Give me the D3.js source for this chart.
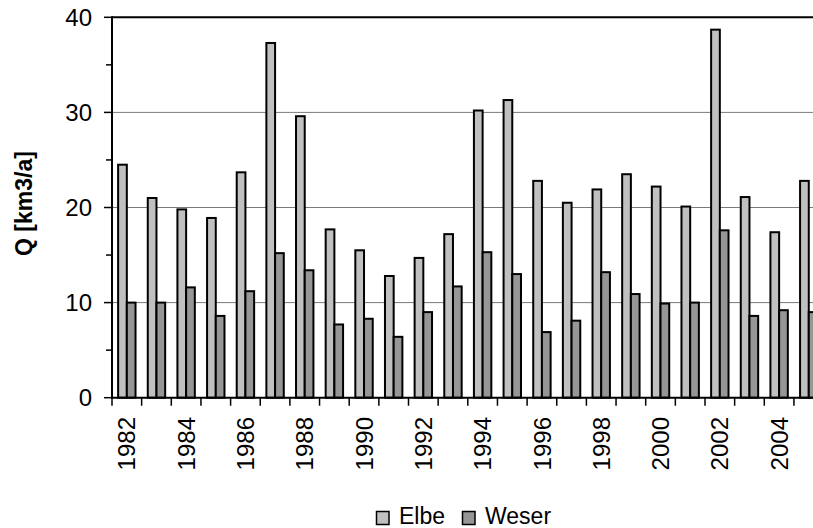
<!DOCTYPE html>
<html>
<head>
<meta charset="utf-8">
<script src="https://cdn.jsdelivr.net/npm/d3@7"></script>
<style>
  html, body { margin: 0; padding: 0; background: #fff; }
  svg { display: block; font-family: "Liberation Sans", Arial, sans-serif; }
</style>
</head>
<body>
<svg id="chart" width="813" height="528"></svg>
<script>
const years = [1982,1983,1984,1985,1986,1987,1988,1989,1990,1991,1992,1993,1994,1995,1996,1997,1998,1999,2000,2001,2002,2003,2004,2005];
const elbe  = [24.5,21.0,19.8,18.9,23.7,37.3,29.6,17.7,15.5,12.8,14.7,17.2,30.2,31.3,22.8,20.5,21.9,23.5,22.2,20.1,38.7,21.1,17.4,22.8];
const weser = [10.0,10.0,11.6,8.6,11.2,15.2,13.4,7.7,8.3,6.4,9.0,11.7,15.3,13.0,6.9,8.1,13.2,10.9,9.9,10.0,17.6,8.6,9.2,9.0];
const seriesNames = ["Elbe", "Weser"];
const seriesColors = ["#c0c0c0", "#969696"];
const yTicks = [0, 10, 20, 30, 40];
const yMinorTicks = [5, 15, 25, 35];
const xLabelYears = [1982,1984,1986,1988,1990,1992,1994,1996,1998,2000,2002,2004];

(function () {
const svg = d3.select("#chart");
const pLeft = 112, step = 29.65, pTop = 17.3, pBottom = 397.7;
const pRight = pLeft + step * years.length;

const x = d3.scaleBand().domain(years).range([pLeft, pRight]).paddingInner(0.413).paddingOuter(0.2065);
const xs = d3.scaleBand().domain(seriesNames).range([0, x.bandwidth()]);
const y = d3.scaleLinear().domain([0, 40]).range([pBottom, pTop]);

// gridlines
svg.append("g").selectAll("line").data(yTicks.filter(t => t > 0 && t < 40)).join("line")
  .attr("x1", pLeft).attr("x2", 813).attr("y1", d => y(d)).attr("y2", d => y(d))
  .attr("stroke", "#7a7a7a").attr("stroke-width", 1);

// top frame
svg.append("line").attr("x1", pLeft).attr("x2", 813).attr("y1", y(40)).attr("y2", y(40))
  .attr("stroke", "#000").attr("stroke-width", 2);

// bars
const data = years.map((yr, i) => ({ year: yr, vals: [elbe[i], weser[i]] }));
const groups = svg.append("g").selectAll("g").data(data).join("g")
  .attr("transform", d => `translate(${x(d.year)},0)`);
groups.selectAll("rect").data(d => d.vals.map((v, j) => ({ name: seriesNames[j], v, j }))).join("rect")
  .attr("x", d => xs(d.name))
  .attr("width", xs.bandwidth())
  .attr("y", d => y(d.v))
  .attr("height", d => y(0) - y(d.v))
  .attr("fill", d => seriesColors[d.j])
  .attr("stroke", "#000").attr("stroke-width", 2);

// y axis
const yAxis = svg.append("g");
yAxis.append("line").attr("x1", pLeft).attr("x2", pLeft).attr("y1", pTop - 1).attr("y2", pBottom)
  .attr("stroke", "#000").attr("stroke-width", 2);
yAxis.selectAll(".maj").data(yTicks).join("line").attr("class", "maj")
  .attr("x1", pLeft - 8).attr("x2", pLeft).attr("y1", d => y(d)).attr("y2", d => y(d))
  .attr("stroke", "#000").attr("stroke-width", 1.5);
yAxis.selectAll(".min").data(yMinorTicks).join("line").attr("class", "min")
  .attr("x1", pLeft - 6).attr("x2", pLeft).attr("y1", d => y(d)).attr("y2", d => y(d))
  .attr("stroke", "#000").attr("stroke-width", 1.5);
yAxis.selectAll("text").data(yTicks).join("text")
  .attr("x", 92).attr("y", d => y(d)).attr("dy", "0.36em")
  .attr("text-anchor", "end").attr("font-size", 24).attr("fill", "#000")
  .text(d => d);

// x axis
const xAxis = svg.append("g");
xAxis.append("line").attr("x1", pLeft - 1).attr("x2", 813).attr("y1", pBottom).attr("y2", pBottom)
  .attr("stroke", "#000").attr("stroke-width", 2);
const boundaries = years.map(yr => x(yr) - x.step() * x.paddingOuter());
xAxis.selectAll(".tk").data(boundaries).join("line").attr("class", "tk")
  .attr("x1", d => d).attr("x2", d => d).attr("y1", pBottom).attr("y2", pBottom + 8)
  .attr("stroke", "#000").attr("stroke-width", 1.5);
xAxis.selectAll("text").data(xLabelYears).join("text")
  .attr("transform", d => `translate(${x(d) + x.bandwidth() / 2},417) rotate(-90)`)
  .attr("dy", "0.36em").attr("text-anchor", "end")
  .attr("font-size", 24).attr("fill", "#000")
  .text(d => d);

// y label
svg.append("text")
  .attr("transform", "translate(32,203.5) rotate(-90)")
  .attr("text-anchor", "middle").attr("font-size", 23).attr("font-weight", "bold").attr("fill", "#000")
  .text("Q [km3/a]");

// legend
const legendX = [376.5, 462.5];
const lg = svg.append("g").selectAll("g").data(seriesNames).join("g")
  .attr("transform", (d, i) => `translate(${legendX[i]},0)`);
lg.append("rect").attr("x", 0).attr("y", 511.5).attr("width", 12.5).attr("height", 13)
  .attr("fill", (d, i) => seriesColors[i]).attr("stroke", "#000").attr("stroke-width", 1.5);
lg.append("text").attr("x", 22.5).attr("y", 524).attr("font-size", 23).attr("fill", "#000")
  .text(d => d);
})();
</script>
</body>
</html>
